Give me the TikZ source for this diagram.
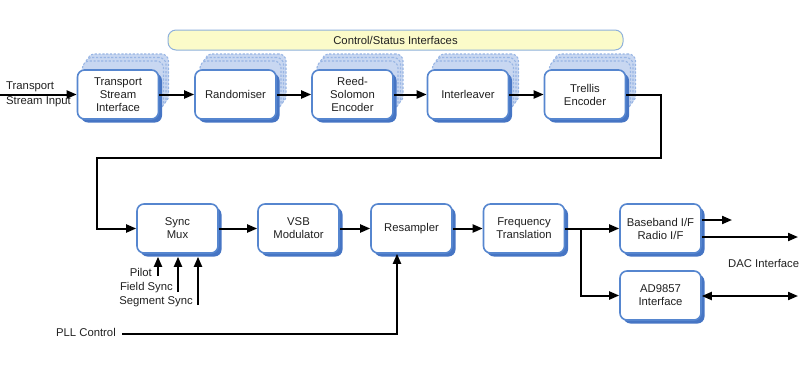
\documentclass[tikz,border=0pt]{standalone}
\usepackage{fontspec}
\setmainfont{Liberation Sans}
\usetikzlibrary{shadows,arrows.meta}
\definecolor{bord}{HTML}{5686CF}
\definecolor{shd}{HTML}{4675C4}
\definecolor{cpfill}{HTML}{C8D7F1}
\definecolor{cpdraw}{HTML}{98B5E4}
\definecolor{barfill}{HTML}{FBFBC9}
\definecolor{bardraw}{HTML}{8FB1DC}
\definecolor{txt}{HTML}{202020}
\begin{document}
\begin{tikzpicture}[x=1pt,y=-1pt,
  font=\fontsize{11.3}{13}\selectfont, text=txt,
  base/.style={rounded corners=7pt, minimum width=81pt, minimum height=49pt,
    align=center, fill=white, draw=bord, line width=1.6pt, inner sep=1pt},
  blk/.style={base, general shadow={shadow xshift=3.5pt, shadow yshift=-3.5pt, fill=shd, draw=none}},
  stk/.style={base,
    general shadow={shadow xshift=10pt, shadow yshift=16pt, fill=cpfill, draw=cpdraw, line width=1.1pt, dash pattern=on 2.2pt off 1.6pt},
    general shadow={shadow xshift=7.5pt, shadow yshift=12.5pt, fill=cpfill, draw=cpdraw, line width=1.1pt, dash pattern=on 2.2pt off 1.6pt},
    general shadow={shadow xshift=5pt, shadow yshift=9pt, fill=cpfill, draw=cpdraw, line width=1.1pt, dash pattern=on 2.2pt off 1.6pt},
    general shadow={shadow xshift=3.5pt, shadow yshift=-3.5pt, fill=shd, draw=none}},
  lbl/.style={inner sep=0pt},
  arr/.style={line width=2pt, -{Triangle[length=10pt,width=8pt]}},
  darr/.style={line width=2pt, {Triangle[length=10pt,width=8pt]}-{Triangle[length=10pt,width=8pt]}}
]
\useasboundingbox (0,0) rectangle (800,368);

% control bar
\node[rounded corners=8pt, minimum width=455pt, minimum height=20pt, fill=barfill,
  draw=bardraw, line width=1pt, inner sep=0pt] (ctrl) at (395.5,40) {Control/Status Interfaces};

% top row
\node[stk] (tsi) at (118,94.5) {Transport\\Stream\\Interface};
\node[stk] (rand) at (235.5,94.5) {Randomiser};
\node[stk] (rs) at (352.5,94.5) {Reed-\\Solomon\\Encoder};
\node[stk] (il) at (468,94.5) {Interleaver};
\node[stk] (trel) at (585,94.5) {Trellis\\Encoder};

% bottom row
\node[blk] (sync) at (177.5,228.5) {Sync\\Mux};
\node[blk] (vsb) at (298.5,228.5) {VSB\\Modulator};
\node[blk] (res) at (411.5,228.5) {Resampler};
\node[blk] (freq) at (524,228.5) {Frequency\\Translation};
\node[blk] (bb) at (660.5,228.5) {Baseband I/F\\Radio I/F};
\node[blk] (ad) at (660.5,295.5) {AD9857\\Interface};

% labels
\node[lbl, anchor=west] (tin1) at (6,87) {Transport};
\node[lbl, anchor=west] (tin2) at (6,102) {Stream Input};
\node[lbl, anchor=east] (pilot) at (152,272) {Pilot};
\node[lbl, anchor=east] (fsync) at (173,288) {Field Sync};
\node[lbl, anchor=east] (ssync) at (193,302) {Segment Sync};
\node[lbl, anchor=east] (pll) at (116,332) {PLL Control};
\node[lbl, anchor=west] (dac) at (728,263) {DAC Interface};

% coordinates
\coordinate (tsin) at (0,94.5);
\coordinate (c1) at (661,158);
\coordinate (c2) at (97,158);
\coordinate (p1) at (158,276);
\coordinate (p2) at (178,292);
\coordinate (p3) at (198,305);
\coordinate (pl0) at (122,334);
\coordinate (pl1) at (397,334);
\coordinate (br) at (581,228.5);
\coordinate (bbo1) at (732,220);
\coordinate (bbo2) at (798,237);
\coordinate (ado) at (798,296);

% connectors
\draw[arr] (tsin) -- (tsi.west);
\draw[arr] (tsi.east) -- (rand.west);
\draw[arr] (rand.east) -- (rs.west);
\draw[arr] (rs.east) -- (il.west);
\draw[arr] (il.east) -- (trel.west);
\draw[arr] (trel.east) -| (c1) -- (c2) |- (sync.west);
\draw[arr] (sync.east) -- (vsb.west);
\draw[arr] (vsb.east) -- (res.west);
\draw[arr] (res.east) -- (freq.west);
\draw[arr] (freq.east) -- (bb.west);
\draw[arr] (br) |- (ad.west);
\draw[arr] (p1) -- ([yshift=-3pt]p1 |- sync.south);
\draw[arr] (p2) -- ([yshift=-3pt]p2 |- sync.south);
\draw[arr] (p3) -- ([yshift=-3pt]p3 |- sync.south);
\draw[arr] (pl0) -- (pl1) -- (pl1 |- res.south);
\draw[arr] (bb.east |- bbo1) -- (bbo1);
\draw[arr] (bb.east |- bbo2) -- (bbo2);
\draw[darr] (ad.east |- ado) -- (ado);
\end{tikzpicture}
\end{document}
